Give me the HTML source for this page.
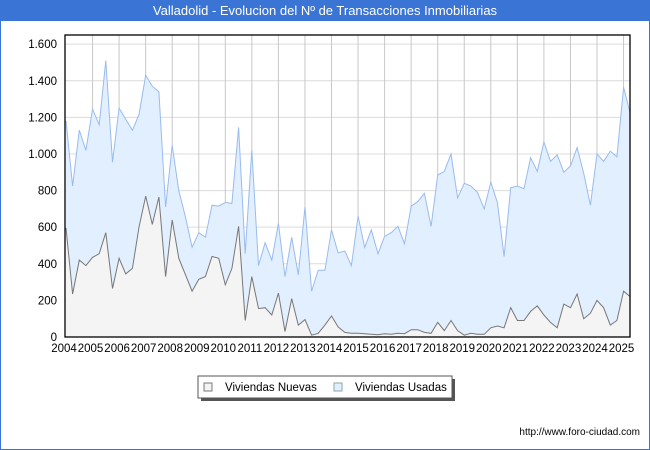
<!DOCTYPE html>
<html><head><meta charset="utf-8">
<style>
html,body{margin:0;padding:0;background:#fff}
body{width:650px;height:450px;position:relative;overflow:hidden;font-family:"Liberation Sans","DejaVu Sans",sans-serif}
#frame{position:absolute;left:0;top:0;width:648px;height:448px;border:1px solid #3a74d4}
#title{position:absolute;left:0;top:0;width:650px;height:21px;background:#3a74d4;color:#fff;font-size:13px;line-height:21px;text-align:center}
#url{position:absolute;right:10px;top:427px;font-size:10px;color:#000}
</style></head><body>
<div id="frame"></div>
<div id="title">Valladolid - Evolucion del Nº de Transacciones Inmobiliarias</div>
<svg id="chart" width="650" height="450" style="position:absolute;left:0;top:0"></svg>
<div id="url">http://www.foro-ciudad.com</div>
<script>
const years=["2004","2005","2006","2007","2008","2009","2010","2011","2012","2013","2014","2015","2016","2017","2018","2019","2020","2021","2022","2023","2024","2025"];
const yTicks=[0,200,400,600,800,1000,1200,1400,1600];
const yTickLabels=["0","200","400","600","800","1.000","1.200","1.400","1.600"];
const usadas=[1180,825,1130,1020,1245,1160,1510,955,1250,1190,1130,1215,1430,1370,1340,710,1045,800,655,490,570,545,720,715,735,730,1145,455,1020,390,515,420,620,330,545,340,710,250,365,365,585,460,470,390,660,490,585,455,550,570,605,510,715,740,785,605,885,905,1000,760,840,825,790,700,845,735,440,815,825,810,980,905,1065,960,995,900,935,1035,895,720,1000,960,1015,985,1365,1220];
const nuevas=[595,235,420,390,435,455,570,265,430,345,375,600,770,615,765,330,640,430,340,250,315,330,440,430,285,375,605,90,330,155,160,120,240,30,210,65,95,10,20,65,115,55,25,20,20,18,15,12,18,15,20,18,40,40,25,20,80,35,90,35,10,20,15,15,50,60,50,160,90,90,140,170,120,80,50,180,160,235,100,130,200,160,65,90,250,220];
const legendLabels=["Viviendas Nuevas","Viviendas Usadas"];

const L=65,R=630,T=35,B=337,yMax=1650;
const yearW=26.55;
function xq(i){return L+1+yearW*i/4;}
function xy(k){return L+1+yearW*k;}
function ys(v){return B-(v/yMax)*(B-T);}
const NS="http://www.w3.org/2000/svg";
const svg=document.getElementById('chart');
function mk(tag,attrs,parent){const e=document.createElementNS(NS,tag);for(const k in attrs)e.setAttribute(k,attrs[k]);(parent||svg).appendChild(e);return e;}

// grid
yTicks.forEach((v,i)=>{
  if(v>0){const g=mk('line',{x1:L,x2:R,y1:ys(v),y2:ys(v),stroke:'#dcdcdc','stroke-width':1});
  
  }
  const t=mk('text',{x:57,y:ys(v)+4,'text-anchor':'end','font-size':11.5,fill:'#000'});
  t.textContent=yTickLabels[i];
  
  
});
years.forEach((yr,k)=>{
  const x=xy(k);
  if(k>0){const g=mk('line',{x1:x,x2:x,y1:T,y2:B,stroke:'#c8c8c8','stroke-width':1});
  
  }
  const t=mk('text',{x:x-2,y:352,'text-anchor':'middle','font-size':11.5,fill:'#000'});
  t.textContent=yr;
  
  
});

function series(vals,fill,stroke,name){
  let d='M'+xq(0)+','+B;
  vals.forEach((v,i)=>{d+=' L'+xq(i).toFixed(1)+','+ys(v).toFixed(1);});
  d+=' L'+xq(vals.length-1).toFixed(1)+','+B+' Z';
  const a=mk('path',{d:d,fill:fill,stroke:'none'});
  
  
  const pts=vals.map((v,i)=>xq(i).toFixed(1)+','+ys(v).toFixed(1)).join(' ');
  const l=mk('polyline',{points:pts,fill:'none',stroke:stroke,'stroke-width':1});
  
  
}
series(usadas,'#e2efff','#99bbee','usadas');
series(nuevas,'#f4f4f4','#777777','nuevas');

const fr=mk('rect',{x:L,y:T,width:R-L,height:B-T,fill:'none',stroke:'#000','stroke-width':1.3});



// legend
const lg=mk('g',{});


mk('rect',{x:201,y:379,width:254,height:22,fill:'#555'},lg);
mk('rect',{x:198,y:376,width:254,height:22,fill:'#fff',stroke:'#555','stroke-width':1},lg);
const sw=[['#f4f4f4','#777'],['#e2efff','#8aa']];
[[204,225],[334,355]].forEach((p,i)=>{
  const r=mk('rect',{x:p[0],y:383,width:8,height:8,fill:sw[i][0],stroke:sw[i][1],'stroke-width':1},lg);
  
  
  const t=mk('text',{x:p[1],y:391,'font-size':11.5,fill:'#000'},lg);
  t.textContent=legendLabels[i];
  
  
});
</script>
</body></html>
